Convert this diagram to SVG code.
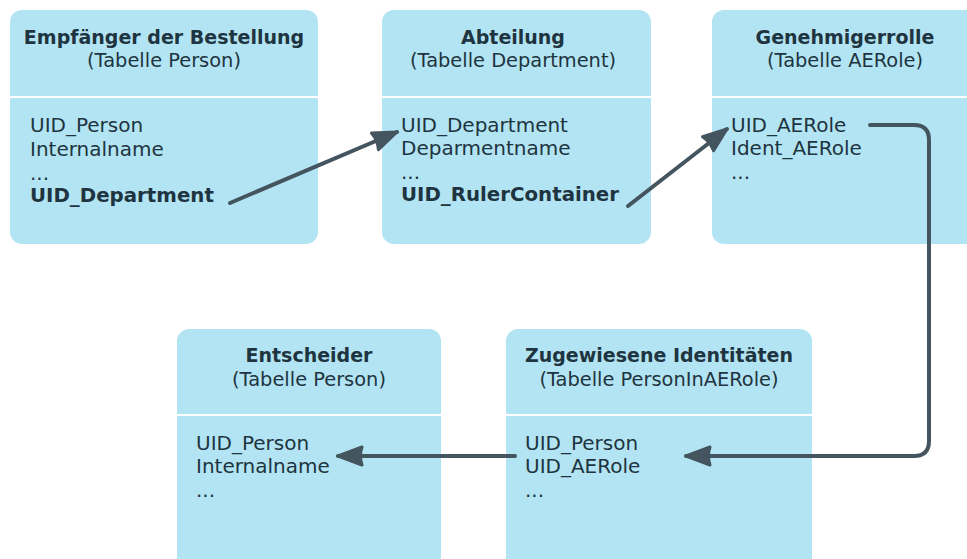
<svg xmlns="http://www.w3.org/2000/svg" width="967" height="559" viewBox="0 0 967 559">
<style>
.box{fill:#b3e4f3;}
.sep{stroke:#ffffff;stroke-width:2;}
text{font-family:"DejaVu Sans",Verdana,sans-serif;font-size:20px;fill:#1e3440;}
.t{font-weight:bold;text-anchor:middle;font-size:19px;}
.s{text-anchor:middle;font-size:19.4px;}
.b{font-weight:bold;font-size:19.8px;}
.c{fill:none;stroke:#44555f;stroke-width:4;stroke-linecap:round;stroke-linejoin:round;}
</style>
<defs>
<marker id="ah" markerUnits="userSpaceOnUse" markerWidth="32" markerHeight="26" refX="27" refY="13" orient="auto">
<path d="M3,4 L27,13 L3,22 Q6,13 3,4 Z" fill="#44555f" stroke="#44555f" stroke-width="3" stroke-linejoin="round"/>
</marker>
</defs>
<g id="n1">
<rect class="box" x="10" y="10" width="308" height="234" rx="12"/>
<line class="sep" x1="10" y1="97" x2="318" y2="97"/>
<text class="t" x="164" y="44">Empfänger der Bestellung</text>
<text class="s" x="164" y="67">(Tabelle Person)</text>
<text x="30" y="132">UID_Person</text>
<text x="30" y="156">Internalname</text>
<text x="30" y="180">...</text>
<text class="b" x="30" y="202">UID_Department</text>
</g>
<g id="n2">
<rect class="box" x="382" y="10" width="269" height="234" rx="12"/>
<line class="sep" x1="382" y1="97" x2="651" y2="97"/>
<text class="t" x="513" y="44">Abteilung</text>
<text class="s" x="513" y="67">(Tabelle Department)</text>
<text x="401" y="132">UID_Department</text>
<text x="401" y="155">Deparmentname</text>
<text x="401" y="179">...</text>
<text class="b" x="401" y="201">UID_RulerContainer</text>
</g>
<g id="n3">
<rect class="box" x="712" y="10" width="275" height="234" rx="12"/>
<line class="sep" x1="712" y1="97" x2="967" y2="97"/>
<text class="t" x="845" y="44">Genehmigerrolle</text>
<text class="s" x="845" y="67">(Tabelle AERole)</text>
<text x="731" y="132">UID_AERole</text>
<text x="731" y="155">Ident_AERole</text>
<text x="731" y="179">...</text>
</g>
<g id="n4">
<rect class="box" x="177" y="329" width="264" height="250" rx="12"/>
<line class="sep" x1="177" y1="415" x2="441" y2="415"/>
<text class="t" x="309" y="362">Entscheider</text>
<text class="s" x="309" y="386">(Tabelle Person)</text>
<text x="196" y="450">UID_Person</text>
<text x="196" y="473">Internalname</text>
<text x="196" y="497">...</text>
</g>
<g id="n5">
<rect class="box" x="506" y="329" width="306" height="250" rx="12"/>
<line class="sep" x1="506" y1="415" x2="812" y2="415"/>
<text class="t" x="659" y="362">Zugewiesene Identitäten</text>
<text class="s" x="659" y="386">(Tabelle PersonInAERole)</text>
<text x="525" y="450">UID_Person</text>
<text x="525" y="473">UID_AERole</text>
<text x="525" y="497">...</text>
</g>
<g id="connectors">
<path class="c" d="M230,203 L397,132" marker-end="url(#ah)"/>
<path class="c" d="M628,206 L727,129" marker-end="url(#ah)"/>
<path class="c" d="M870,125 L914,125 Q929,125 929,140 L929,441 Q929,456 914,456 L686,456" marker-end="url(#ah)"/>
<path class="c" d="M515,456 L338,456" marker-end="url(#ah)"/>
</g>
</svg>
